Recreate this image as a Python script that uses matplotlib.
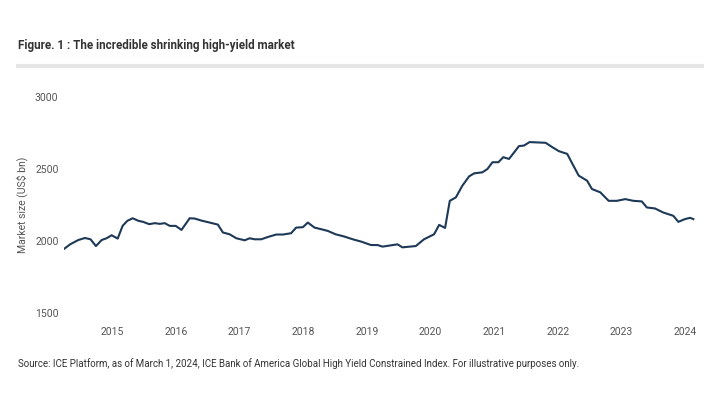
import matplotlib
matplotlib.use("Agg")
import matplotlib.pyplot as plt
import matplotlib.dates as mdates
from matplotlib.lines import Line2D
from datetime import datetime

# Market size of the high-yield index (US$ bn)
dates = [
    "2014-04-01", "2014-05-04", "2014-06-20", "2014-07-28", "2014-08-29",
    "2014-09-29", "2014-11-01", "2014-11-29", "2014-12-28", "2015-02-01",
    "2015-03-01", "2015-03-28", "2015-04-28", "2015-05-31", "2015-06-27",
    "2015-08-01", "2015-09-02", "2015-10-01", "2015-10-29", "2015-11-27",
    "2015-12-31", "2016-02-02", "2016-03-20", "2016-04-18", "2016-05-26",
    "2016-07-13", "2016-08-29", "2016-09-27", "2016-11-04", "2016-12-13",
    "2017-01-30", "2017-02-27", "2017-03-28", "2017-05-05", "2017-06-12",
    "2017-07-30", "2017-09-06", "2017-10-23", "2017-11-21", "2017-12-30",
    "2018-01-27", "2018-03-07", "2018-04-14", "2018-05-22", "2018-07-05",
    "2018-08-25", "2018-10-12", "2018-11-29", "2019-01-25", "2019-03-04",
    "2019-04-01", "2019-06-26", "2019-07-24", "2019-10-09", "2019-11-25",
    "2020-01-22", "2020-02-20", "2020-03-25", "2020-04-21", "2020-05-26",
    "2020-07-02", "2020-08-10", "2020-09-08", "2020-10-25", "2020-11-23",
    "2020-12-22", "2021-01-25", "2021-02-22", "2021-03-27", "2021-05-23",
    "2021-06-21", "2021-07-23", "2021-10-23", "2021-11-30", "2022-01-07",
    "2022-02-24", "2022-03-21", "2022-05-01", "2022-06-18", "2022-07-16",
    "2022-09-02", "2022-10-20", "2022-12-06", "2023-01-23", "2023-03-11",
    "2023-04-28", "2023-05-27", "2023-07-13", "2023-08-29", "2023-10-26",
    "2023-11-24", "2023-12-31", "2024-01-30", "2024-02-18",
]
market_size = [
    1949, 1979, 2009, 2023, 2014, 1967, 2009, 2021, 2042, 2019,
    2107, 2142, 2160, 2142, 2135, 2119, 2126, 2121, 2126, 2107,
    2107, 2079, 2160, 2158, 2144, 2130, 2116, 2061, 2049, 2021,
    2007, 2021, 2014, 2014, 2030, 2047, 2047, 2056, 2095, 2098,
    2130, 2095, 2084, 2072, 2049, 2033, 2014, 1998, 1974, 1974,
    1963, 1979, 1958, 1967, 2014, 2049, 2114, 2093, 2281, 2305,
    2386, 2451, 2472, 2479, 2502, 2549, 2549, 2584, 2572, 2661,
    2665, 2689, 2684, 2654, 2626, 2607, 2549, 2456, 2421, 2363,
    2340, 2281, 2281, 2293, 2281, 2277, 2235, 2228, 2200, 2177,
    2135, 2154, 2163, 2154,
]
year_ticks = list(range(2015, 2025))
y_ticks = [1500, 2000, 2500, 3000]

title = "Figure. 1 : The incredible shrinking high-yield market"
source = ("Source: ICE Platform, as of March 1, 2024, ICE Bank of America Global "
          "High Yield Constrained Index. For illustrative purposes only.")

plt.rcParams["font.family"] = ["Roboto", "DejaVu Sans"]

W, H = 720, 394
fig = plt.figure(figsize=(W / 100, H / 100), dpi=100)

# axes placed in pixel terms of the reference
left_px, right_px, top_px, bottom_px = 64, 697, 97.3, 313.3
ax = fig.add_axes([left_px / W, 1 - bottom_px / H,
                   (right_px - left_px) / W, (bottom_px - top_px) / H])

x = [datetime.strptime(d, "%Y-%m-%d") for d in dates]
ax.plot(x, market_size, color="#1d3957", lw=1.5, solid_joinstyle="round")

# x range: 2015 tick at px 112.3, 2024 tick at px 685
t0 = mdates.date2num(datetime(2015, 1, 1))
t1 = mdates.date2num(datetime(2024, 1, 1))
per_px = (t1 - t0) / (685 - 112.3)
ax.set_xlim(t0 - (112.3 - left_px) * per_px, t1 + (right_px - 685) * per_px)
ax.set_ylim(1500, 3000)

ax.set_xticks([datetime(y, 1, 1) for y in year_ticks])
ax.set_xticklabels([str(y) for y in year_ticks])
ax.set_yticks(y_ticks)
ax.tick_params(length=0, labelsize=7.5, colors="#555555")
ax.tick_params(axis="x", pad=10)
ax.tick_params(axis="y", pad=4)
for s in ax.spines.values():
    s.set_visible(False)

ax.set_ylabel("Market size (US$ bn)", fontsize=7.5, color="#555555")
ax.yaxis.set_label_coords(-(left_px - 28) / (right_px - left_px), 0.5)

fig.text(18 / W, 1 - 46 / H, title, fontsize=8.4, fontweight="bold",
         color="#333333", ha="left", va="center")
fig.add_artist(Line2D([18 / W, 702 / W], [1 - 66 / H, 1 - 66 / H],
                      color="#e5e5e5", lw=3, transform=fig.transFigure))
fig.text(18 / W, 1 - 364 / H, source, fontsize=7.0, color="#333333",
         ha="left", va="center")

fig.savefig("out.png", dpi=100)
